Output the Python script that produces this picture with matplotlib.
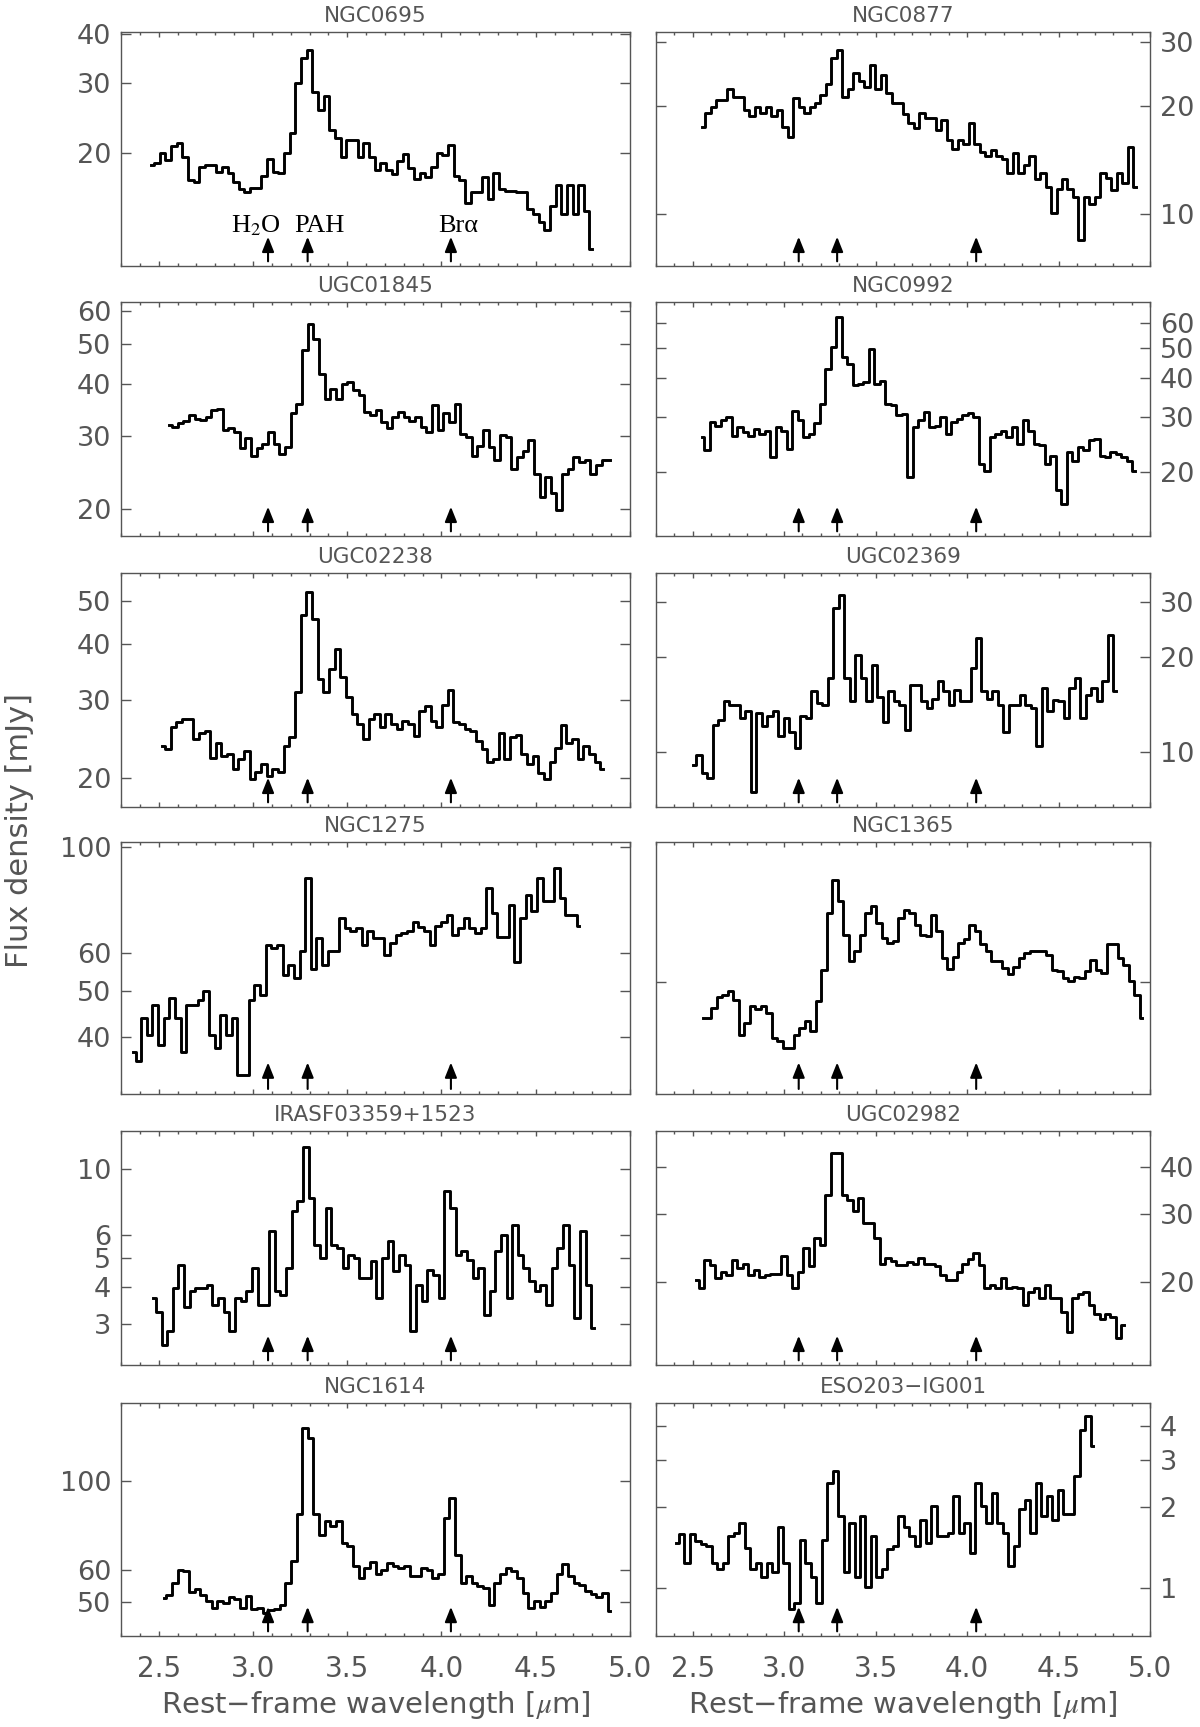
import numpy as np
import matplotlib
matplotlib.use('Agg')
import matplotlib.pyplot as plt
from matplotlib.ticker import FixedLocator, FixedFormatter, MultipleLocator, NullLocator, FormatStrFormatter

plt.rcParams['mathtext.fontset'] = 'stix'
grey = '#555555'

# panel titles, row by row (left, right)
names = ['NGC0695', 'NGC0877', 'UGC01845', 'NGC0992', 'UGC02238', 'UGC02369',
         'NGC1275', 'NGC1365', 'IRASF03359+1523', 'UGC02982', 'NGC1614', 'ESO203\u2212IG001']

# first wavelength of each spectrum [um], bins 0.03 um wide
wl_start = [2.46, 2.554, 2.555, 2.549, 2.518, 2.504, 2.362, 2.558, 2.47, 2.519, 2.526, 2.41]
bin_width = 0.03

# flux density [mJy]
f_ngc0695 = [18.6, 18.8, 19.9, 19.2, 20.8, 21.1, 19.5, 17.0, 16.8, 18.4,
             18.6, 18.6, 17.9, 18.4, 17.8, 16.8, 16.2, 15.9, 16.3, 16.3,
             17.4, 19.3, 17.9, 17.8, 20.0, 22.4, 30.0, 34.7, 36.5, 28.5,
             25.7, 27.8, 22.8, 21.8, 19.5, 21.5, 21.5, 19.5, 21.1, 19.5,
             18.1, 18.8, 18.1, 17.6, 19.0, 19.8, 18.3, 17.1, 17.8, 17.3,
             18.4, 19.9, 19.7, 20.9, 17.4, 17.0, 14.9, 15.9, 15.9, 17.3,
             15.2, 17.8, 16.2, 16.0, 16.0, 15.9, 15.9, 14.4, 14.0, 13.3,
             12.7, 14.6, 16.5, 14.0, 16.5, 14.0, 16.5, 14.2, 11.4]
f_ngc0877 = [17.5, 19.1, 19.9, 20.8, 20.8, 22.2, 21.2, 21.2, 19.5, 18.7,
             19.9, 19.1, 19.9, 18.7, 19.5, 17.5, 16.4, 21.0, 19.9, 19.1,
             19.9, 20.3, 21.4, 22.9, 27.1, 28.6, 21.2, 22.2, 24.6, 23.4,
             22.5, 26.0, 22.2, 24.4, 21.7, 20.3, 20.3, 19.0, 17.9, 17.3,
             19.1, 18.5, 18.5, 17.1, 18.3, 16.1, 15.2, 16.1, 15.7, 17.9,
             15.7, 14.9, 14.5, 15.1, 14.5, 14.2, 13.0, 14.8, 13.0, 13.7,
             14.5, 12.5, 13.0, 11.9, 10.1, 11.8, 12.5, 11.8, 11.2, 8.5,
             11.2, 10.7, 11.2, 13.0, 12.6, 11.7, 13.0, 12.2, 15.4, 11.9]
f_ugc01845 = [31.8, 31.5, 32.2, 32.6, 33.8, 33.0, 32.8, 33.3, 34.6, 34.9,
              31.0, 31.4, 30.7, 28.0, 29.6, 26.9, 28.0, 28.7, 30.7, 28.7,
              27.2, 28.2, 34.0, 35.9, 48.3, 56.0, 51.5, 42.4, 36.9, 39.0,
              36.9, 40.1, 40.5, 38.7, 37.6, 34.3, 33.8, 34.6, 32.4, 31.4,
              33.3, 34.3, 33.4, 32.6, 33.4, 31.5, 30.7, 35.6, 31.0, 34.0,
              32.4, 35.9, 30.4, 29.8, 26.9, 28.3, 31.1, 28.2, 26.2, 30.1,
              29.8, 25.0, 26.7, 27.6, 29.3, 24.3, 21.4, 23.9, 21.8, 19.9,
              24.3, 25.0, 26.7, 26.0, 26.2, 24.3, 25.5, 26.2, 26.3]
f_ngc0992 = [25.9, 23.5, 28.9, 28.2, 29.3, 30.0, 26.2, 27.9, 26.9, 26.2,
             27.4, 26.5, 27.1, 22.3, 27.9, 27.1, 23.7, 31.5, 29.3, 25.9,
             26.6, 28.7, 33.1, 42.9, 50.3, 62.8, 46.7, 44.5, 37.9, 38.4,
             38.9, 49.7, 38.4, 39.3, 33.1, 32.7, 30.4, 30.7, 19.3, 27.9,
             29.3, 31.1, 27.9, 28.2, 30.0, 26.5, 28.9, 29.6, 30.4, 30.9,
             30.1, 21.2, 20.2, 25.9, 26.5, 27.1, 25.9, 27.9, 24.6, 29.3,
             27.1, 24.6, 24.4, 21.2, 22.6, 17.5, 15.8, 23.2, 21.8, 24.0,
             23.5, 25.3, 25.5, 22.6, 22.3, 23.2, 22.9, 22.3, 21.8, 20.2]
f_ugc02238 = [23.6, 23.2, 26.0, 26.7, 27.2, 27.1, 24.5, 25.3, 25.5, 22.2,
              24.0, 22.4, 22.6, 20.9, 22.0, 23.0, 19.9, 20.6, 21.5, 20.2,
              20.9, 20.6, 23.6, 24.7, 31.2, 46.4, 52.4, 45.6, 33.4, 31.2,
              35.2, 39.0, 33.7, 30.4, 27.8, 26.5, 24.5, 27.2, 27.8, 26.0,
              27.8, 26.5, 25.8, 26.9, 26.5, 24.9, 28.3, 29.0, 26.9, 26.0,
              29.1, 31.6, 26.7, 26.5, 25.8, 25.5, 24.2, 23.2, 21.7, 22.0,
              25.3, 22.0, 24.7, 25.0, 22.6, 21.5, 22.4, 20.5, 19.9, 21.7,
              23.4, 26.3, 24.0, 24.5, 22.0, 23.6, 22.6, 21.7, 20.9]
f_ugc02369 = [9.1, 9.8, 8.6, 8.3, 12.2, 12.7, 14.5, 14.1, 14.1, 12.8,
              13.5, 7.5, 13.3, 12.1, 13.0, 13.5, 11.3, 12.8, 11.6, 10.3,
              13.0, 12.8, 15.6, 14.3, 14.1, 17.2, 28.7, 31.6, 17.2, 14.5,
              20.4, 17.2, 14.5, 18.9, 15.0, 12.5, 15.6, 14.5, 14.1, 11.8,
              16.4, 16.4, 14.5, 13.8, 14.8, 16.8, 15.6, 14.1, 15.8, 14.5,
              14.5, 18.5, 23.0, 15.6, 14.8, 15.6, 14.1, 11.6, 14.1, 14.1,
              15.2, 14.1, 13.8, 10.5, 16.0, 13.5, 14.7, 14.5, 12.8, 16.0,
              17.2, 12.8, 15.2, 16.0, 14.5, 16.8, 23.6, 15.6]
f_ngc1275 = [37.3, 35.6, 43.8, 40.5, 46.7, 38.5, 43.8, 48.3, 43.8, 37.3,
             46.7, 46.7, 47.9, 49.9, 40.5, 37.9, 44.5, 40.5, 43.8, 33.3,
             33.3, 47.9, 51.5, 49.1, 62.5, 61.5, 62.5, 54.0, 56.7, 53.2,
             60.5, 86.2, 55.7, 64.5, 56.7, 60.5, 60.5, 71.0, 67.7, 66.8,
             67.7, 62.5, 66.8, 64.5, 64.5, 59.5, 63.0, 65.6, 66.2, 66.8,
             69.9, 68.2, 66.8, 62.5, 68.5, 69.9, 72.2, 65.6, 67.7, 71.0,
             67.7, 66.2, 67.7, 82.1, 72.8, 64.8, 64.8, 75.8, 57.6, 71.0,
             79.6, 73.4, 86.2, 77.0, 77.0, 90.4, 78.2, 72.2, 72.2, 68.5]
f_ngc1365 = [251, 251, 264, 278, 282, 287, 275, 231, 245, 266,
             262, 266, 257, 228, 224, 217, 217, 231, 239, 247,
             235, 273, 319, 422, 497, 447, 379, 332, 349, 379,
             422, 436, 401, 373, 364, 367, 411, 429, 422, 398,
             379, 376, 418, 385, 338, 320, 340, 364, 370, 398,
             385, 361, 349, 332, 332, 321, 312, 323, 338, 346,
             350, 349, 349, 343, 319, 316, 306, 302, 307, 306,
             316, 335, 319, 314, 361, 361, 338, 327, 301, 282,
             251]
f_iras03359 = [3.66, 3.30, 2.55, 2.83, 3.96, 4.75, 3.43, 3.86, 3.96, 3.96,
               4.06, 3.48, 3.66, 3.30, 2.83, 3.66, 3.57, 3.86, 4.63, 3.48,
               3.48, 6.16, 3.86, 3.76, 4.63, 7.19, 7.78, 11.8, 7.98, 5.55,
               5.00, 7.38, 5.55, 5.40, 4.63, 5.13, 5.00, 4.28, 4.28, 4.87,
               3.66, 5.00, 5.69, 4.51, 5.13, 4.75, 2.83, 4.06, 3.57, 4.56,
               4.39, 3.66, 8.40, 7.38, 5.13, 5.27, 4.94, 4.28, 4.63, 3.22,
               3.86, 5.27, 6.00, 3.66, 6.48, 5.13, 4.63, 4.17, 3.86, 4.06,
               3.48, 4.63, 5.40, 6.48, 4.75, 3.13, 6.16, 4.06, 2.90]
f_ugc02982 = [20.2, 19.2, 22.8, 22.1, 20.4, 21.2, 20.8, 22.8, 21.7, 22.3,
              20.8, 21.5, 20.6, 20.8, 21.0, 21.0, 23.3, 20.8, 19.2, 21.2,
              24.5, 22.0, 26.0, 25.0, 33.8, 43.5, 43.5, 33.8, 32.8, 30.6,
              33.1, 28.5, 28.5, 26.0, 22.3, 23.0, 22.6, 22.1, 22.1, 22.5,
              22.3, 23.0, 22.3, 22.3, 22.0, 20.8, 20.2, 20.2, 21.2, 22.3,
              22.9, 23.7, 22.1, 19.2, 19.6, 19.2, 20.4, 19.2, 19.4, 19.2,
              17.4, 18.8, 19.2, 18.1, 19.6, 18.1, 18.1, 16.7, 14.8, 18.1,
              18.6, 18.8, 17.4, 16.5, 16.0, 16.5, 16.2, 14.2, 15.4]
f_ngc1614 = [51.2, 52.0, 55.8, 60.2, 59.7, 53.0, 53.7, 52.0, 50.2, 48.4,
             50.2, 49.7, 51.4, 50.7, 48.4, 51.6, 47.9, 48.4, 47.0, 47.6,
             47.9, 49.0, 55.8, 63.2, 82.6, 136, 128, 82.6, 73.6, 79.5,
             77.2, 79.5, 70.2, 68.8, 61.4, 57.4, 60.8, 62.9, 58.7, 60.2,
             62.6, 61.4, 60.8, 61.4, 58.0, 58.0, 60.8, 60.2, 57.2, 58.6,
             81.0, 90.8, 65.6, 55.8, 58.0, 55.8, 54.7, 54.3, 49.0, 55.8,
             58.6, 60.8, 59.7, 57.2, 52.6, 48.4, 50.2, 48.5, 50.2, 52.6,
             58.6, 62.0, 58.0, 55.8, 55.2, 53.3, 52.3, 51.4, 52.6, 47.4]
f_eso203 = [1.47, 1.58, 1.24, 1.58, 1.49, 1.45, 1.43, 1.24, 1.17, 1.24,
            1.56, 1.60, 1.74, 1.41, 1.17, 1.24, 1.10, 1.24, 1.14, 1.69,
            1.24, 0.83, 0.88, 1.51, 1.24, 1.10, 0.88, 1.51, 2.46, 2.72,
            1.85, 1.14, 1.74, 1.10, 1.85, 1.01, 1.56, 1.10, 1.17, 1.39,
            1.43, 1.85, 1.69, 1.56, 1.43, 1.79, 1.47, 2.01, 1.56, 1.56,
            1.60, 2.19, 1.60, 1.74, 1.35, 2.46, 2.01, 1.74, 2.25, 1.74,
            1.60, 1.20, 1.43, 1.96, 2.13, 1.60, 2.46, 1.85, 2.19, 1.79,
            2.32, 1.89, 1.89, 2.60, 3.88, 4.35, 3.36]

spectra = [f_ngc0695, f_ngc0877, f_ugc01845, f_ngc0992, f_ugc02238, f_ugc02369,
           f_ngc1275, f_ngc1365, f_iras03359, f_ugc02982, f_ngc1614, f_eso203]

# y axis ticks / labels / ranges per panel
yticks = [[20, 30, 40], [10, 20, 30], [20, 30, 40, 50, 60], [20, 30, 40, 50, 60],
          [20, 30, 40, 50], [10, 20, 30], [40, 50, 60, 100], [300],
          [3, 4, 5, 6, 10], [20, 30, 40], [50, 60, 100], [1, 2, 3, 4]]
ytick_labels = [['20', '30', '40'], ['10', '20', '30'], ['20', '30', '40', '50', '60'],
                ['20', '30', '40', '50', '60'], ['20', '30', '40', '50'], ['10', '20', '30'],
                ['40', '50', '60', '100'], [''], ['3', '4', '5', '6', '10'],
                ['20', '30', '40'], ['50', '60', '100'], ['1', '2', '3', '4']]
ylims = [(10.3, 40.5), (7.2, 32.0), (17.2, 63.2), (12.5, 70.1), (17.2, 57.8), (6.7, 37.1),
         (30.4, 102.6), (172.6, 598.6), (2.18, 13.4), (12.1, 49.6), (41.1, 156.7), (0.661, 4.88)]

# features marked by arrows
feat_wl = [3.08, 3.29, 4.05]
feat_names = ['H$_2$O', 'PAH', 'Br\u03b1']
feat_text_x = [3.015, 3.35, 4.09]

W, H = 1200, 1727
rows = [(32, 266), (302, 536), (573, 807), (842, 1094), (1131, 1365), (1403, 1636)]
cols = [(121, 630), (656, 1150)]

fig = plt.figure(figsize=(W / 100, H / 100), dpi=100)

for k in range(12):
    r, c = k // 2, k % 2
    top, bot = rows[r]
    x0, x1 = cols[c]
    ax = fig.add_axes([x0 / W, 1 - bot / H, (x1 - x0) / W, (bot - top) / H])
    flux = np.array(spectra[k])
    wl = wl_start[k] + bin_width * np.arange(len(flux))
    ax.step(wl, flux, where='mid', color='k', lw=2.1)

    ax.set_yscale('log')
    ax.set_xlim(2.3, 5.0)
    ax.set_ylim(*ylims[k])
    ax.yaxis.set_major_locator(FixedLocator(yticks[k]))
    ax.yaxis.set_major_formatter(FixedFormatter(ytick_labels[k]))
    ax.yaxis.set_minor_locator(NullLocator())
    ax.xaxis.set_major_locator(MultipleLocator(0.5))
    ax.xaxis.set_minor_locator(MultipleLocator(0.1))
    ax.xaxis.set_major_formatter(FormatStrFormatter('%.1f'))

    ax.tick_params(axis='y', which='major', direction='in', left=True, right=True,
                   length=7.5, width=1.0, color=grey, labelcolor=grey, labelsize=19.5,
                   labelleft=(c == 0), labelright=(c == 1), pad=7)
    ax.tick_params(axis='x', which='major', direction='in', top=True, bottom=True,
                   length=3.8, width=1.0, color=grey, labelcolor=grey, labelsize=20,
                   labelbottom=(r == 5), pad=14)
    ax.tick_params(axis='x', which='minor', direction='in', top=True, bottom=True,
                   length=2.2, width=1.0, color=grey)
    for sp in ax.spines.values():
        sp.set_color(grey)
        sp.set_linewidth(1.0)

    ax.set_title(names[k], fontsize=15.5, color=grey, pad=7)

    for w in feat_wl:
        ax.annotate('', xy=(w, 0.125), xytext=(w, 0.02),
                    xycoords=('data', 'axes fraction'), textcoords=('data', 'axes fraction'),
                    arrowprops=dict(arrowstyle='-|>,head_length=0.45,head_width=0.18',
                                    color='k', lw=1.5, mutation_scale=20,
                                    shrinkA=0, shrinkB=0))
    if k == 0:
        for tx, lab in zip(feat_text_x, feat_names):
            ax.text(tx, 0.145, lab, transform=ax.get_xaxis_transform(), ha='center',
                    va='baseline', fontsize=19, family=['Liberation Serif', 'DejaVu Serif'])

    if r == 5:
        ax.set_xlabel('Rest\u2212frame wavelength [$\\mu$m]', fontsize=21, color=grey, labelpad=4)

fig.text(0.016, 0.519, 'Flux density [mJy]', rotation=90, ha='center', va='center',
         fontsize=22, color=grey)

fig.savefig('out.png', dpi=100)
